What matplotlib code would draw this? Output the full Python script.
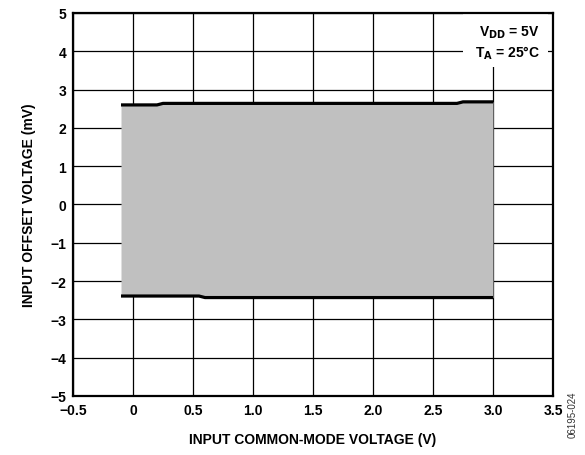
import matplotlib.pyplot as plt
import numpy as np

plt.rcParams['font.family'] = ['Liberation Sans', 'DejaVu Sans']
plt.rcParams['font.weight'] = 'bold'
plt.rcParams['axes.labelweight'] = 'bold'

# Input common-mode voltage (V) and offset voltage limits (mV)
vcm = [-0.1, 0.2, 0.25, 0.55, 0.6, 2.7, 2.75, 3.0]
vos_high = [2.60, 2.60, 2.64, 2.64, 2.64, 2.64, 2.68, 2.68]
vos_low = [-2.39, -2.39, -2.39, -2.39, -2.43, -2.43, -2.43, -2.43]

xticks = [-0.5, 0, 0.5, 1.0, 1.5, 2.0, 2.5, 3.0, 3.5]
xtick_labels = ['\u22120.5', '0', '0.5', '1.0', '1.5', '2.0', '2.5', '3.0', '3.5']
yticks = [-5, -4, -3, -2, -1, 0, 1, 2, 3, 4, 5]
ytick_labels = [str(v).replace('-', '\u2212') for v in yticks]

fig = plt.figure(figsize=(5.85, 4.56), dpi=100)
ax = fig.add_axes([0.1248, 0.1294, 0.8205, 0.8399])

ax.set_xlim(-0.5, 3.5)
ax.set_ylim(-5, 5)
ax.set_xticks(xticks)
ax.set_xticklabels(xtick_labels)
ax.set_yticks(yticks)
ax.set_yticklabels(ytick_labels)
ax.tick_params(length=0, labelsize=10, pad=5)
ax.grid(True, color='black', linewidth=0.9)
ax.set_axisbelow(True)
for s in ax.spines.values():
    s.set_linewidth(1.6)
    s.set_zorder(6)

# shaded band and its edges
ax.fill_between(vcm, vos_low, vos_high, color='#c0c0c0', linewidth=0, zorder=2)
ax.plot(vcm, vos_high, color='black', linewidth=2.3, zorder=3, solid_capstyle='butt')
ax.plot(vcm, vos_low, color='black', linewidth=2.3, zorder=3, solid_capstyle='butt')

# condition box
ax.add_patch(plt.Rectangle((2.75, 3.6), 0.71, 1.39, facecolor='white',
                           edgecolor='none', zorder=4))
ax.text(3.39, 4.5, r'V$_{\mathbf{DD}}$ = 5V', ha='right', va='center',
        fontsize=10, zorder=5)
ax.text(3.39, 3.98, r'T$_{\mathbf{A}}$ = 25°C', ha='right', va='center',
        fontsize=10, zorder=5)

ax.set_xlabel('INPUT COMMON-MODE VOLTAGE (V)', fontsize=10, labelpad=11)
ax.set_ylabel('INPUT OFFSET VOLTAGE (mV)', fontsize=10, labelpad=10)

fig.text(0.978, 0.09, '06195-024', rotation=90, ha='center', va='center',
         fontsize=7, color='#333333', fontweight='normal')

fig.savefig('out.png', dpi=100)
